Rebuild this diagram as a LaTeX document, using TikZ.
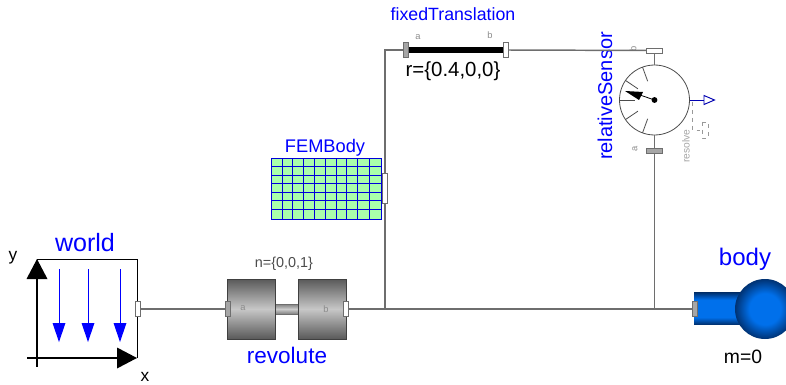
\documentclass[tikz,border=0pt]{standalone}
\usepackage{fontspec}
\setmainfont{Liberation Sans}
\usepackage{tikz}
\usetikzlibrary{calc}
\definecolor{wiregray}{RGB}{110,110,110}
\definecolor{labelblue}{RGB}{0,0,255}
\definecolor{femgreen}{RGB}{170,255,170}
\definecolor{bodyblue}{RGB}{0,112,235}
\definecolor{bodydark}{RGB}{0,50,115}
\pgfdeclareradialshading{ballshade}{\pgfpoint{0bp}{0bp}}{color(0bp)=(bodyblue); color(13bp)=(bodyblue); color(25bp)=(bodydark); color(50bp)=(bodydark)}
\pgfdeclareverticalshading{tubeshade}{100bp}{color(0bp)=(bodydark); color(25bp)=(bodydark); color(36bp)=(bodyblue); color(64bp)=(bodyblue); color(75bp)=(bodydark); color(100bp)=(bodydark)}

\begin{document}
\begin{tikzpicture}[x=0.75pt,y=-0.75pt] % one unit is one pixel of the reference
	\tikzset{wire/.style={draw=wiregray,line width=1.1pt}}
	\tikzset{portv/.style={draw=wiregray,line width=0.6pt,inner sep=0pt,minimum width=3.8pt,minimum height=11.5pt}}
	\tikzset{porth/.style={draw=wiregray,line width=0.6pt,inner sep=0pt,minimum width=11.5pt,minimum height=3.8pt}}
	\tikzset{cyl/.style={draw=black!75,line width=0.6pt,inner sep=0pt,minimum width=36pt,minimum height=45pt,top color=black!65,bottom color=black!65,middle color=black!22}}
	\tikzset{tiny/.style={text=black!45,font=\fontsize{7}{8}\selectfont,inner sep=0pt}}
	\clip (0,0) rectangle (786,385);

	% World frame and gravity arrows
	\draw [black,line width=0.75pt] (37,259) -- (137,259) -- (137,358);
	\draw [black,line width=1pt] (37,279) -- (37,367);
	\draw [black,line width=1pt] (27,358) -- (118,358);
	\fill [black] (37,259) -- (47.5,279) -- (26.5,279) -- cycle;
	\fill [black] (137,358) -- (117,347.5) -- (117,368.5) -- cycle;
	\foreach \x in {59,88,120}
	{
		\draw [labelblue,line width=0.7pt] (\x,269) -- (\x,325);
		\fill [labelblue] (\x,342) -- (\x+6.5,323) -- (\x-6.5,323) -- cycle;
	}
	\node (worldlabel) at (85,243) {\fontsize{18.8}{20}\selectfont\textcolor{labelblue}{world}};
	\node (ylabel) at (13,258) {\fontsize{13}{15}\selectfont y};
	\node (xlabel) at (145,377) {\fontsize{13}{15}\selectfont x};

	% Revolute joint
	\node [draw=wiregray,line width=0.5pt,minimum width=17pt,minimum height=7.5pt,inner sep=0pt,top color=black!50,bottom color=black!50,middle color=black!20] (revrod) at (286.5,309) {};
	\node [cyl] (reva) at (251,309) {};
	\node [cyl] (revb) at (322,309) {};
	\node [tiny] (revalabel) at (243,308) {a};
	\node [tiny] (revblabel) at (326,309) {b};
	\node (revn) at (284,264) {\fontsize{10.8}{12}\selectfont\textcolor{black!70}{n=\{0,0,1\}}};
	\node (revlabel) at (287,355) {\fontsize{16.9}{18}\selectfont\textcolor{labelblue}{revolute}};

	% Fixed translation
	\node [fill=black,inner sep=0pt,minimum width=72pt,minimum height=4.5pt] (fixedbar) at (456.5,50) {};
	\node (fixedlabel) at (453,14) {\fontsize{13.3}{15}\selectfont\textcolor{labelblue}{fixedTranslation}};
	\node [tiny] (fixedalabel) at (418,37) {a};
	\node [tiny] (fixedblabel) at (490,35) {b};
	\node (fixedr) at (453,71) {\fontsize{15.3}{17}\selectfont r=\{0.4,0,0\}};

	% FEM body grid
	\node [fill=femgreen,inner sep=0pt,minimum width=83pt,minimum height=46pt] (fembody) at (326.5,188.5) {};
	\foreach \x in {271,282,292.5,303.5,314.5,325,336,346.5,357.5,369,381.5}
	{
		\draw [labelblue!85!black,line width=0.75pt] (\x,158) -- (\x,219);
	}
	\foreach \y in {158,166,175,183.5,192.5,200.5,209.5,219}
	{
		\draw [labelblue!85!black,line width=0.75pt] (271,\y) -- (381.5,\y);
	}
	\node (femlabel) at (325,148) {\fontsize{13.7}{15}\selectfont\textcolor{labelblue}{FEMBody}};

	% Sensor dial
	\node [circle,draw=black!70,fill=white,line width=0.6pt,inner sep=0pt,minimum size=52.5pt] (sensor) at (654.5,100) {};
	\foreach \a in {110,146,180,214,250}
	{
		\draw [black!70,line width=0.6pt] ($(654.5,100)+(\a:35)$) -- ($(654.5,100)+(\a:20)$);
	}
	\draw [black,line width=0.6pt] (654.5,100) -- (640,95);
	\fill [black] (625,91) -- (643,92) -- (639,100) -- cycle;
	\fill [black] (654.5,100) circle (2.2pt);
	\node (sensorlabel) at (605,96) [rotate=90] {\fontsize{15}{17}\selectfont\textcolor{labelblue}{relativeSensor}};
	\node [tiny,rotate=90] (sensorb) at (633,49) {b};
	\node [tiny,rotate=90] (sensora) at (635,149) {a};
	\node [rotate=90,inner sep=0pt] (resolvelabel) at (686,146) {\fontsize{7.7}{9}\selectfont\textcolor{black!35}{resolve}};

	% Sensor output and resolve frame
	\coordinate (sensorout) at (704,100);
	\draw [labelblue!70!black,line width=0.7pt] (sensor) -- (sensorout);
	\draw [labelblue!70!black,fill=white,line width=0.7pt] (704,95.5) -- (714.5,100) -- (704,104.5) -- cycle;
	\draw [black!40,dashed,line width=0.7pt] (692.5,102) -- (692.5,130) -- (700,130);
	\draw [black!40,dashed,line width=0.6pt] (702,122) rectangle (708,138);

	% Body
	\node [inner sep=0pt,minimum width=39pt,minimum height=23.5pt,shading=tubeshade] (bodycyl) at (720,308.5) {};
	\shade [shading=ballshade] (765,309) circle (22.5pt);
	\node (bodylabel) at (745,259) {\fontsize{18}{20}\selectfont\textcolor{labelblue}{body}};
	\node (bodym) at (743,357) {\fontsize{14.5}{16}\selectfont m=0};

	% Ports
	\node [portv,fill=white] (worldport) at (138,309) {};
	\node [portv,fill=black!35] (revaport) at (227.5,309) {};
	\node [portv,fill=white] (revbport) at (346,309) {};
	\node [portv,fill=black!35] (fixedaport) at (406,50) {};
	\node [portv,fill=white] (fixedbport) at (505.5,50) {};
	\node [portv,fill=white,minimum height=22.5pt] (femport) at (385,188) {};
	\node [porth,fill=white] (sensortop) at (654.5,50.5) {};
	\node [porth,fill=black!35] (sensorbot) at (654.5,151) {};
	\node [portv,fill=black!35] (bodyport) at (695,309) {};
	\coordinate (junctionA) at (385,309);
	\coordinate (junctionB) at (654.5,309);

	% Connections
	\draw [wire] (worldport) -- (revaport);
	\draw [wire] (revbport) -- (bodyport);
	\draw [wire] (junctionA) -- (femport);
	\draw [wire] (femport) |- (fixedaport);
	\draw [wire] (fixedbport) -- (sensortop);
	\draw [wire] (sensortop) -- (sensor);
	\draw [wire] (sensor) -- (sensorbot);
	\draw [wire] (sensorbot) -- (junctionB);
\end{tikzpicture}
\end{document}
